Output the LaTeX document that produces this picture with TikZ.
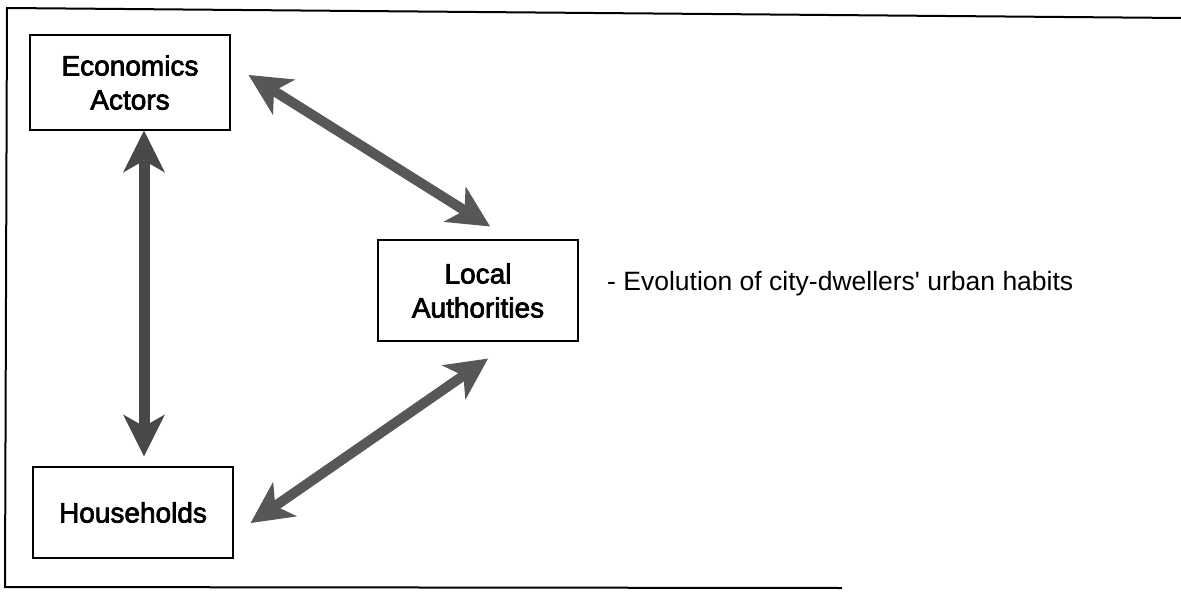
\documentclass[tikz,border=0pt]{standalone}
\usepackage{fontspec}
\setmainfont{Liberation Sans}
\newfontfamily\boxfont[FakeBold=2.5]{Liberation Sans}
\newfontfamily\notefont[Ligatures=TeXOff]{Liberation Sans}
\usetikzlibrary{arrows.meta}
\definecolor{arrowdark}{HTML}{484848}
\definecolor{arrowgray}{HTML}{575757}
\tikzset{
  actor/.style={draw=black, line width=1.2pt, rectangle, inner sep=0pt,
    minimum width=200pt, align=center,
    font=\boxfont\fontsize{28}{34}\selectfont},
  bigtip/.tip={Stealth[length=42pt, width=42pt, inset=12pt, line width=0pt]},
  linkv/.style={draw=arrowdark, line width=11pt, bigtip-bigtip},
  linkd/.style={draw=arrowgray, line width=10pt, bigtip-bigtip},
  frameline/.style={draw=black, line width=2pt}
}
\begin{document}
\begin{tikzpicture}[x=1pt, y=-1pt]
\useasboundingbox (0,0) rectangle (1181,594);
% frame
\coordinate (ftl) at (7,8);
\coordinate (ftr) at (1181,18);
\coordinate (fbl) at (5,587);
\coordinate (fbr) at (842,588);
\draw[frameline] (ftr) -- (ftl) -- (fbl) -- (fbr);
% boxes
\node[actor, minimum height=95pt] (eco) at (130,82.5) {Economics\\Actors};
\node[actor, minimum height=101pt] (loc) at (478,290.5) {Local\\Authorities};
\node[actor, minimum height=91pt] (hou) at (133,512.5) {Households};
% note
\node[anchor=base west, inner sep=0pt, font=\notefont\fontsize{26.5}{30}\selectfont] (note) at (607,290) {- Evolution of city-dwellers' urban habits};
% arrows
\draw[linkv] ([xshift=14pt]eco.south) -- ([shift={(11,-10)}]hou.north);
\draw[linkd] ([shift={(18,-7.5)}]eco.east) -- ([shift={(12,-13)}]loc.north);
\draw[linkd] ([shift={(17,10.5)}]hou.east) -- ([shift={(10,17)}]loc.south);
\end{tikzpicture}
\end{document}
